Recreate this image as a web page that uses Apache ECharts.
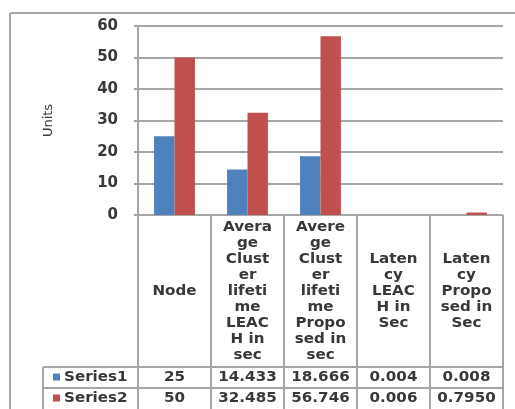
<!DOCTYPE html>
<html>
<head>
<meta charset="utf-8">
<script src="https://cdn.jsdelivr.net/npm/echarts@6/dist/echarts.min.js"></script>
<style>
  html, body { margin: 0; padding: 0; background: #fff; }
  #chart { width: 515px; height: 409px; }
</style>
</head>
<body>
<div id="chart"></div>
<script>
// Category names, wrapped the way they appear in the data table header
const categories = [
  "Node",
  "Avera\nge\nClust\ner\nlifeti\nme\nLEAC\nH in\nsec",
  "Avere\nge\nClust\ner\nlifeti\nme\nPropo\nsed in\nsec",
  "Laten\ncy\nLEAC\nH in\nSec",
  "Laten\ncy\nPropo\nsed in\nSec"
];
const seriesNames = ["Series1", "Series2"];
// Values as printed in the data table; bars use the same numbers
const series1Text = ["25", "14.433", "18.666", "0.004", "0.008"];
const series2Text = ["50", "32.485", "56.746", "0.006", "0.7950"];
const series1 = series1Text.map(Number);
const series2 = series2Text.map(Number);
const yTicks = { min: 0, max: 60, interval: 10 };
const colors = ["#4F81BD", "#C0504D"];

const FONT = "DejaVu Sans";
const TEXT_COLOR = "#383838";
const LINE_COLOR = "#a6a6a6";

const chart = echarts.init(document.getElementById("chart"), null, { renderer: "canvas" });

const grid = { left: 138, top: 26, width: 365, height: 189 };

chart.setOption({
  animation: false,
  backgroundColor: "#ffffff",
  grid: grid,
  xAxis: {
    type: "category",
    data: categories,
    axisLine: { show: false },
    axisTick: { show: false },
    axisLabel: { show: false },
    splitLine: { show: false }
  },
  yAxis: {
    type: "value",
    min: yTicks.min,
    max: yTicks.max,
    interval: yTicks.interval,
    name: "Units",
    nameLocation: "middle",
    nameRotate: 90,
    nameGap: 83,
    nameTextStyle: { fontFamily: FONT, fontSize: 13, color: TEXT_COLOR },
    axisLine: { show: true, lineStyle: { color: LINE_COLOR, width: 2 } },
    axisTick: { show: true, length: 4, lineStyle: { color: LINE_COLOR, width: 2 } },
    axisLabel: {
      margin: 20,
      fontFamily: FONT,
      fontWeight: "bold",
      fontSize: 15,
      color: TEXT_COLOR
    },
    splitLine: { show: true, lineStyle: { color: LINE_COLOR, width: 2 } }
  },
  series: [
    {
      name: seriesNames[0],
      type: "bar",
      data: series1,
      barGap: "0%",
      barCategoryGap: "44%",
      itemStyle: { color: colors[0] }
    },
    {
      name: seriesNames[1],
      type: "bar",
      data: series2,
      barGap: "0%",
      barCategoryGap: "44%",
      itemStyle: { color: colors[1] }
    }
  ]
});

// Data table under the plot, aligned to the category bands
function buildTable() {
  const c0 = chart.convertToPixel({ xAxisIndex: 0 }, 0);
  const c1 = chart.convertToPixel({ xAxisIndex: 0 }, 1);
  const band = c1 - c0;
  const yZero = chart.convertToPixel({ yAxisIndex: 0 }, 0);
  const headerBottom = yZero + 152;
  const rowH = 21;
  const legendLeft = 43;
  const plotLeft = grid.left;
  const plotRight = grid.left + grid.width;
  const els = [];
  const line = (x1, y1, x2, y2) => els.push({
    type: "line",
    shape: { x1, y1, x2, y2 },
    style: { stroke: LINE_COLOR, lineWidth: 2 },
    silent: true
  });
  const text = (x, y, str, align) => els.push({
    type: "text",
    x, y,
    scaleX: 1.08,
    style: {
      text: str,
      fill: TEXT_COLOR,
      font: "bold 14px '" + FONT + "'",
      align: align || "center",
      verticalAlign: "middle",
      lineHeight: 16
    },
    silent: true
  });

  // Outer chart frame
  line(10, 13, 515, 13);
  line(10, 13, 10, 409);

  // Header cells
  const rowsBottom = headerBottom + rowH * 2 + 2;
  line(plotLeft, yZero, plotRight, yZero);
  for (let i = 0; i <= categories.length; i++) {
    const x = plotLeft + band * i;
    line(x, yZero, x, rowsBottom);
  }
  categories.forEach((cat, i) => {
    text(c0 + band * i, (yZero + headerBottom) / 2, cat);
  });

  // Series rows
  line(legendLeft, headerBottom, plotRight, headerBottom);
  line(legendLeft, headerBottom + rowH, plotRight, headerBottom + rowH);
  line(legendLeft, headerBottom, legendLeft, rowsBottom);
  const rows = [series1Text, series2Text];
  rows.forEach((vals, r) => {
    const yc = headerBottom + rowH * r + rowH / 2;
    els.push({
      type: "rect",
      shape: { x: legendLeft + 10, y: yc - 4, width: 7, height: 7 },
      style: { fill: colors[r] },
      silent: true
    });
    text(legendLeft + 21, yc, seriesNames[r], "left");
    vals.forEach((v, i) => text(c0 + band * i, yc, v));
  });

  chart.setOption({ graphic: { elements: els } });
}
buildTable();
</script>
</body>
</html>
